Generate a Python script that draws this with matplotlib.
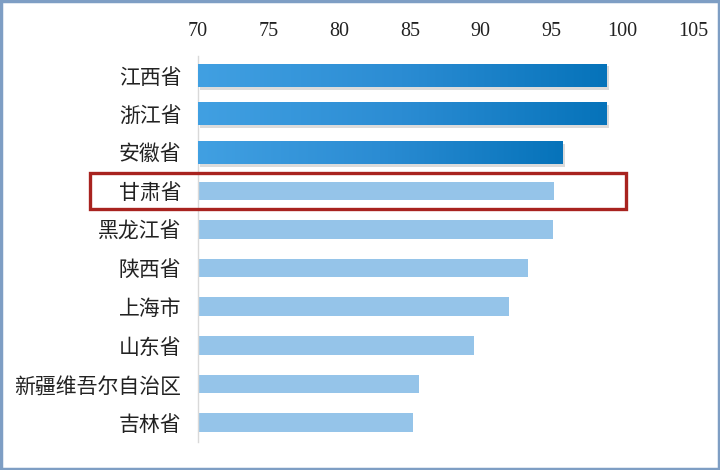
import matplotlib.pyplot as plt
import numpy as np
from matplotlib.patches import Rectangle
import matplotlib.transforms as mtransforms

plt.rcParams['font.family'] = ['Noto Sans CJK SC', 'DejaVu Sans']

provinces = ['江西省', '浙江省', '安徽省', '甘肃省', '黑龙江省',
             '陕西省', '上海市', '山东省', '新疆维吾尔自治区', '吉林省']
scores = [98.9, 98.9, 95.8, 95.2, 95.1, 93.3, 92.0, 89.5, 85.6, 85.2]
top_n = 3          # top three drawn with darker gradient
highlight = '甘肃省'
xticks = [70, 75, 80, 85, 90, 95, 100, 105]

fig = plt.figure(figsize=(7.2, 4.7), dpi=100)
ax = fig.add_axes([0.275, 0.06, 0.6875, 0.821])

ypos = np.arange(len(provinces))
base = 70
light = '#95c4e9'
cmap = plt.matplotlib.colors.LinearSegmentedColormap.from_list(
    'g', ['#41a0e2', '#2b8cd3', '#0673ba'])

for i, (name, val) in enumerate(zip(provinces, scores)):
    if i < top_n:
        # soft shadow
        ax.barh(i + 0.07, val - base, left=base + 0.15, height=0.6,
                color='#888888', alpha=0.3, zorder=1)
        bars = ax.barh(i, val - base, left=base, height=0.6,
                       color='#2a88cf', zorder=2)
        grad = np.linspace(0, 1, 256).reshape(1, -1)
        im = ax.imshow(grad, extent=[base, val, i + 0.3, i - 0.3],
                       cmap=cmap, aspect='auto', zorder=3)
        im.set_clip_path(bars[0])
    else:
        ax.barh(i, val - base, left=base, height=0.48, color=light, zorder=2)

ax.set_xlim(70, 105)
ax.set_ylim(len(provinces) - 0.5, -0.5)
ax.set_xticks(xticks)
ax.xaxis.tick_top()
ax.tick_params(axis='x', length=0, pad=11, labelsize=14.5, labelcolor='#222222')
for lab in ax.get_xticklabels():
    lab.set_fontfamily(['Liberation Serif', 'DejaVu Serif'])
ax.set_yticks(ypos)
ax.set_yticklabels(provinces, fontsize=15, color='#222222')
ax.tick_params(axis='y', length=0, pad=12)

for s in ['top', 'right', 'bottom']:
    ax.spines[s].set_visible(False)
ax.spines['left'].set_color('#d9d9d9')
ax.spines['left'].set_linewidth(1)

# highlight box around the chosen province
hi = provinces.index(highlight)
trans = mtransforms.blended_transform_factory(fig.transFigure, ax.transData)
box = Rectangle((90 / 720, hi - 0.465), (626 - 90) / 720, 0.93,
                transform=trans, fill=False, edgecolor='#a8231f',
                linewidth=2.4, clip_on=False, zorder=5)
fig.add_artist(box)

# outer frame
fig.add_artist(Rectangle((0.001, 0.002), 0.997, 0.995, transform=fig.transFigure,
                         fill=False, edgecolor='#7e9ec4', linewidth=2.5))

fig.savefig('out.png', dpi=100, facecolor='white')
